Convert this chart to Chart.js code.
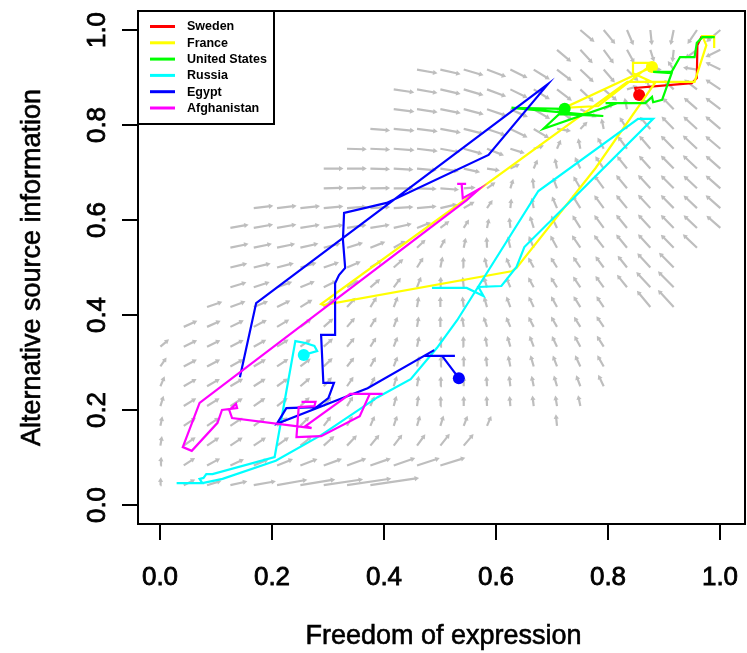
<!DOCTYPE html>
<html>
<head>
<meta charset="utf-8">
<script src="https://cdn.jsdelivr.net/npm/chart.js@4.4.1/dist/chart.umd.min.js"></script>
<style>
  html, body { margin: 0; padding: 0; background: #ffffff; }
  canvas { display: block; }
</style>
</head>
<body>
<canvas id="chart" width="747" height="653"></canvas>
<script>
// axis ticks
const xTicks = [0, 0.2, 0.4, 0.6, 0.8, 1.0];
const yTicks = [0, 0.2, 0.4, 0.6, 0.8, 1.0];

const countries = ['Sweden', 'France', 'United States', 'Russia', 'Egypt', 'Afghanistan'];
const countryColors = ['#ff0000', '#ffff00', '#00ff00', '#00ffff', '#0000ff', '#ff00ff'];
// countries whose last observation is marked with a dot
const markLast = [true, true, true, true, true, false];

// trajectories: x = freedom of expression, y = alternative source information
const swedenX = [0.981, 0.966, 0.959, 0.958, 0.949, 0.848, 0.850, 0.855];
const swedenY = [0.985, 0.985, 0.968, 0.899, 0.888, 0.878, 0.869, 0.863];

const franceX = [0.989, 0.989, 0.968, 0.975, 0.954, 0.834, 0.287, 0.291, 0.627, 0.636, 0.777, 0.883, 0.844, 0.844, 0.871, 0.869, 0.782, 0.721, 0.878];
const franceY = [0.962, 0.987, 0.987, 0.968, 0.891, 0.891, 0.423, 0.421, 0.492, 0.499, 0.709, 0.888, 0.909, 0.931, 0.931, 0.920, 0.840, 0.836, 0.922];

const usX = [0.990, 0.968, 0.958, 0.954, 0.928, 0.913, 0.880, 0.913, 0.896, 0.880, 0.878, 0.866, 0.795, 0.816, 0.684, 0.712, 0.791, 0.712, 0.627, 0.722];
const usY = [0.985, 0.985, 0.973, 0.943, 0.943, 0.912, 0.912, 0.909, 0.853, 0.848, 0.859, 0.846, 0.846, 0.846, 0.792, 0.823, 0.819, 0.827, 0.836, 0.834];

const russiaX = [0.485, 0.547, 0.577, 0.568, 0.609, 0.636, 0.650, 0.880, 0.853, 0.675, 0.530, 0.494, 0.447, 0.388, 0.287, 0.206, 0.111, 0.075, 0.029, 0.075, 0.070, 0.077, 0.082, 0.093, 0.204, 0.241, 0.259, 0.275, 0.280, 0.256];
const russiaY = [0.457, 0.457, 0.440, 0.459, 0.461, 0.501, 0.543, 0.813, 0.813, 0.661, 0.389, 0.331, 0.265, 0.227, 0.147, 0.093, 0.055, 0.046, 0.046, 0.046, 0.055, 0.057, 0.065, 0.065, 0.101, 0.345, 0.341, 0.335, 0.324, 0.316];

const egyptX = [0.142, 0.171, 0.692, 0.586, 0.404, 0.328, 0.326, 0.330, 0.319, 0.312, 0.312, 0.287, 0.291, 0.310, 0.300, 0.279, 0.225, 0.208, 0.370, 0.489, 0.471, 0.526, 0.503, 0.533];
const egyptY = [0.269, 0.425, 0.886, 0.737, 0.636, 0.615, 0.558, 0.499, 0.484, 0.467, 0.358, 0.358, 0.257, 0.257, 0.225, 0.206, 0.204, 0.171, 0.246, 0.326, 0.314, 0.314, 0.314, 0.267];

const afghanX = [0.252, 0.277, 0.275, 0.247, 0.243, 0.287, 0.356, 0.374, 0.397, 0.339, 0.259, 0.270, 0.128, 0.123, 0.135, 0.137, 0.110, 0.102, 0.056, 0.040, 0.070, 0.547, 0.569, 0.540, 0.538, 0.530, 0.546];
const afghanY = [0.217, 0.217, 0.208, 0.206, 0.143, 0.145, 0.187, 0.234, 0.234, 0.234, 0.166, 0.162, 0.183, 0.200, 0.213, 0.204, 0.200, 0.173, 0.114, 0.122, 0.215, 0.642, 0.665, 0.646, 0.676, 0.676, 0.676];

// vector field: grid columns, then one entry per row (top row first)
const fieldGridX = [0, 0.0417, 0.0833, 0.125, 0.1667, 0.2083, 0.25, 0.2917, 0.3333, 0.375, 0.4167, 0.4583, 0.5,
                    0.5417, 0.5833, 0.625, 0.6667, 0.7083, 0.75, 0.7917, 0.8333, 0.875, 0.9167, 0.9583, 1];
const fieldRowY = [1, 0.9583, 0.9167, 0.875, 0.8333, 0.7917, 0.75, 0.7083, 0.6667, 0.625, 0.5833, 0.5417,
                   0.5, 0.4583, 0.4167, 0.375, 0.3333, 0.2917, 0.25, 0.2083, 0.1667, 0.125, 0.0833, 0.0417];
const fieldRowFirst = [18, 17, 11, 10, 10, 9, 8, 7, 7, 4, 3, 3, 3, 3, 2, 1, 0, 0, 0, 0, 0, 0, 0, 0];
// direction of flow, degrees
const fieldAngle = [
  [-45, -55, -70, -85, -100, -120, -135],
  [-45, -52, -58, -65, -75, -95, -140, -150],
  [-12, -15, -19, -24, -30, -36, -42, -48, -54, -50, 0, 120, 170, 150],
  [-10, -12, -15, -19, -24, -30, -36, -42, -48, -45, 20, 110, 130, 138, 142],
  [-8, -10, -13, -17, -22, -28, -35, -40, -30, 30, 100, 122, 130, 134, 138],
  [-5, -6, -8, -12, -16, -22, -30, -35, -10, 50, 100, 118, 126, 130, 133, 135],
  [-2, -3, -5, -8, -12, -18, -25, -20, 20, 70, 100, 115, 122, 126, 130, 132, 135],
  [0, 0, -2, -4, -6, -10, -15, -10, 30, 70, 100, 112, 120, 124, 127, 130, 132, 134],
  [2, 2, 1, 0, -2, -5, 5, 40, 75, 95, 108, 116, 122, 125, 128, 130, 132, 134],
  [8, 8, 7, 6, 5, 4, 4, 6, 15, 35, 60, 85, 100, 110, 118, 122, 125, 128, 130, 132, 134],
  [12, 12, 12, 11, 10, 10, 11, 15, 25, 42, 62, 80, 95, 105, 112, 118, 122, 125, 128, 130, 132, 134],
  [14, 14, 14, 15, 17, 20, 25, 34, 48, 65, 80, 92, 102, 110, 115, 120, 123, 125, 128, 130, 132],
  [16, 16, 17, 19, 22, 27, 35, 46, 62, 80, 92, 102, 110, 115, 118, 120, 122, 124, 128, 130],
  [20, 21, 23, 26, 30, 36, 45, 58, 72, 88, 95, 105, 110, 115, 118, 120, 122, 124, 128, 130],
  [22, 24, 26, 30, 36, 44, 52, 62, 72, 82, 90, 96, 104, 108, 112, 115, 118, 120, null, 125, 128],
  [28, 28, 30, 32, 35, 40, 46, 54, 62, 72, 82, 90, 98, 106, 110, 114, 116, 118, 120],
  [45, 30, 30, 31, 33, 36, 40, 46, 54, 62, 72, 80, 86, 92, 98, 104, 108, 112, 115, 118],
  [60, 32, 32, 33, 35, 38, 42, 48, 56, 64, 72, 80, 86, 90, 95, 100, 104, 108, 112, 116],
  [70, 34, 34, 35, 37, 40, 45, 52, 60, 68, 75, 82, 87, 90, 93, 96, 100, 104, 108, 112],
  [75, 36, 36, 37, 39, 42, 48, 55, 62, 70, 77, 83, 88, 90, 92, 94, 96, 98, 100],
  [80, 38, 38, 38, 40, 44, 50, 57, 64, 70, 74, 76, 75, 72, 70, null, null, 95],
  [82, 40, 38, 38, 38, 40, 43, 47, 51, 55, 57, 58, 56, 54],
  [85, 38, 32, 28, 26, 25, 24, 23, 23, 22, 22, 21, 20],
  [88, 30, 20, 15, 12, 12, 11, 10, 10, 10]
];
// strength of flow, x units
const fieldSize = [
  [.03, .03, .028, .026, .026, .028, .03],
  [.03, .03, .028, .025, .02, .02, .022, .025],
  [.032, .032, .032, .032, .03, .03, .03, .03, .028, .026, .015, .015, .02, .025],
  [.032, .032, .032, .032, .032, .03, .03, .03, .03, .028, .015, .018, .02, .025, .028],
  [.032, .032, .032, .032, .032, .03, .03, .03, .028, .015, .018, .02, .025, .028, .03],
  [.03, .032, .032, .032, .032, .03, .03, .028, .02, .014, .016, .022, .026, .028, .03, .032],
  [.03, .03, .032, .032, .03, .03, .028, .022, .014, .014, .016, .02, .025, .028, .03, .032, .032],
  [.03, .03, .03, .03, .03, .028, .025, .018, .014, .014, .016, .02, .024, .026, .028, .03, .032, .032],
  [.03, .03, .03, .03, .03, .028, .016, .014, .014, .016, .018, .022, .026, .028, .03, .03, .03, .032],
  [.03, .03, .03, .03, .03, .03, .03, .03, .026, .018, .014, .014, .016, .02, .024, .026, .028, .03, .03, .03, .032],
  [.028, .03, .03, .03, .03, .03, .03, .028, .022, .016, .014, .014, .016, .02, .022, .024, .026, .028, .03, .03, .03, .03],
  [.028, .028, .028, .028, .026, .025, .024, .02, .017, .015, .015, .016, .018, .02, .022, .024, .026, .028, .03, .03, .032],
  [.026, .026, .026, .025, .024, .022, .02, .019, .018, .017, .016, .016, .016, .017, .018, .02, .022, .024, .032, .035],
  [.025, .025, .024, .023, .022, .02, .019, .018, .017, .016, .016, .016, .016, .017, .018, .02, .022, .026, .035, .038],
  [.024, .024, .023, .022, .021, .02, .019, .018, .017, .016, .016, .016, .016, .017, .018, .019, .02, .02, null, .036, .04],
  [.022, .022, .022, .022, .021, .02, .019, .018, .017, .016, .016, .016, .016, .016, .016, .017, .018, .018, .02],
  [.016, .022, .022, .022, .021, .02, .019, .018, .017, .016, .016, .016, .016, .016, .016, .017, .018, .018, .019, .02],
  [.016, .022, .022, .022, .021, .02, .019, .018, .017, .016, .016, .016, .016, .016, .016, .017, .018, .018, .019, .02],
  [.016, .022, .022, .022, .021, .02, .019, .018, .017, .016, .016, .016, .015, .015, .015, .016, .016, .017, .018, .02],
  [.016, .022, .022, .022, .021, .02, .019, .018, .017, .016, .016, .016, .015, .015, .015, .015, .016, .016, .017],
  [.014, .022, .022, .022, .021, .02, .019, .018, .017, .016, .016, .016, .016, .016, .016, null, null, .018],
  [.014, .022, .022, .022, .022, .022, .022, .022, .022, .022, .022, .022, .024, .024],
  [.012, .02, .022, .022, .024, .026, .028, .03, .032, .034, .036, .038, .042],
  [.01, .018, .022, .026, .035, .05, .058, .066, .075, .083]
];

const FONT = "'Liberation Sans', Arial, Helvetica, sans-serif";
const ARROW_GREY = '#bebebe';

// build arrow shafts (tail -> head, broken by a gap) and arrow heads
const shafts = [];
const heads = [];
fieldRowY.forEach((y, r) => {
  fieldAngle[r].forEach((a, i) => {
    if (a === null) return;
    const x = fieldGridX[fieldRowFirst[r] + i];
    const m = fieldSize[r][i];
    const rad = a * Math.PI / 180;
    const hx = x + m * Math.cos(rad);
    const hy = y + m * Math.sin(rad);
    shafts.push({ x: x, y: y }, { x: hx, y: hy }, { x: hx, y: null });
    heads.push({ x: hx, y: hy, tx: x, ty: y });
  });
});

function headRotation(c) {
  const p = c.raw;
  const xs = c.chart.scales.x, ys = c.chart.scales.y;
  const dx = xs.getPixelForValue(p.x) - xs.getPixelForValue(p.tx);
  const dy = ys.getPixelForValue(p.y) - ys.getPixelForValue(p.ty);
  return Math.atan2(dx, -dy) * 180 / Math.PI;
}

const paths = [
  [swedenX, swedenY], [franceX, franceY], [usX, usY],
  [russiaX, russiaY], [egyptX, egyptY], [afghanX, afghanY]
];

const countrySets = countries.map((name, i) => {
  const xs = paths[i][0], ys = paths[i][1];
  const last = xs.length - 1;
  return {
    label: name,
    data: xs.map((v, j) => ({ x: v, y: ys[j] })),
    borderColor: countryColors[i],
    backgroundColor: countryColors[i],
    borderWidth: 2.2,
    pointRadius: c => (markLast[i] && c.dataIndex === last) ? 6 : 0,
    pointBorderWidth: 0,
    tension: 0,
    order: 6 - i,
    isCountry: true
  };
});

// filled text with a thin outline so the glyphs come out a little heavier
function heavyText(ctx, text, x, y) {
  ctx.fillText(text, x, y);
  ctx.strokeText(text, x, y);
}

// R-style frame, ticks and axis titles
const axesPlugin = {
  id: 'rAxes',
  afterDraw(chart) {
    const ctx = chart.ctx;
    const a = chart.chartArea;
    const xs = chart.scales.x, ys = chart.scales.y;
    ctx.save();
    ctx.strokeStyle = '#000';
    ctx.lineWidth = 2;
    ctx.strokeRect(a.left, a.top, a.right - a.left + 4, a.bottom - a.top);

    ctx.fillStyle = '#000';
    ctx.font = '26px ' + FONT;
    ctx.textAlign = 'center';
    ctx.textBaseline = 'alphabetic';
    xTicks.forEach(v => {
      const px = Math.round(xs.getPixelForValue(v));
      ctx.lineWidth = 2;
      ctx.beginPath();
      ctx.moveTo(px, a.bottom);
      ctx.lineTo(px, a.bottom + 16);
      ctx.stroke();
      ctx.lineWidth = 0.8;
      heavyText(ctx, v.toFixed(1), px, 585);
    });
    yTicks.forEach(v => {
      const py = Math.round(ys.getPixelForValue(v));
      ctx.lineWidth = 2;
      ctx.beginPath();
      ctx.moveTo(a.left, py);
      ctx.lineTo(a.left - 16, py);
      ctx.stroke();
      ctx.lineWidth = 0.8;
      ctx.save();
      ctx.translate(105, py);
      ctx.rotate(-Math.PI / 2);
      heavyText(ctx, v.toFixed(1), 0, 0);
      ctx.restore();
    });

    ctx.font = '27px ' + FONT;
    ctx.lineWidth = 0.6;
    heavyText(ctx, 'Freedom of expression', (a.left + 749) / 2, 644);
    ctx.save();
    ctx.translate(40, (a.top + a.bottom) / 2);
    ctx.rotate(-Math.PI / 2);
    heavyText(ctx, 'Alternative source information', 0, 0);
    ctx.restore();
    ctx.restore();
  }
};

// legend box in the top-left corner of the plot
const legendPlugin = {
  id: 'cornerLegend',
  afterDraw(chart) {
    const ctx = chart.ctx;
    const a = chart.chartArea;
    const items = chart.data.datasets.filter(d => d.isCountry);
    const left = a.left, top = a.top;
    const rowH = 16.3;
    ctx.save();
    ctx.fillStyle = '#fff';
    ctx.fillRect(left, top, 136, 113);
    ctx.strokeStyle = '#000';
    ctx.lineWidth = 2;
    ctx.strokeRect(left, top, 136, 113);
    ctx.font = 'bold 12.5px ' + FONT;
    ctx.textBaseline = 'middle';
    ctx.textAlign = 'left';
    items.forEach((d, i) => {
      const y = top + 15.5 + i * rowH;
      ctx.strokeStyle = d.borderColor;
      ctx.lineWidth = 3;
      ctx.beginPath();
      ctx.moveTo(left + 12, y);
      ctx.lineTo(left + 37, y);
      ctx.stroke();
      ctx.fillStyle = '#000';
      ctx.fillText(d.label, left + 49, y + 0.5);
    });
    ctx.restore();
  }
};

new Chart(document.getElementById('chart'), {
  type: 'line',
  data: {
    datasets: [
      ...countrySets,
      {
        label: 'field',
        data: shafts,
        borderColor: ARROW_GREY,
        borderWidth: 2.2,
        pointRadius: 0,
        spanGaps: false,
        tension: 0,
        order: 20
      },
      {
        label: 'field heads',
        data: heads,
        showLine: false,
        pointStyle: 'triangle',
        pointRadius: 3,
        pointBorderWidth: 0,
        pointBackgroundColor: ARROW_GREY,
        pointRotation: headRotation,
        order: 19
      }
    ]
  },
  options: {
    responsive: false,
    animation: false,
    events: [],
    layout: { padding: { left: 138, top: 11, right: 0, bottom: 129 } },
    plugins: { legend: { display: false }, tooltip: { enabled: false } },
    scales: {
      x: { type: 'linear', display: false, min: -0.04, max: 1.0369 },
      y: { type: 'linear', display: false, min: -0.04, max: 1.04 }
    }
  },
  plugins: [axesPlugin, legendPlugin]
});
</script>
</body>
</html>
